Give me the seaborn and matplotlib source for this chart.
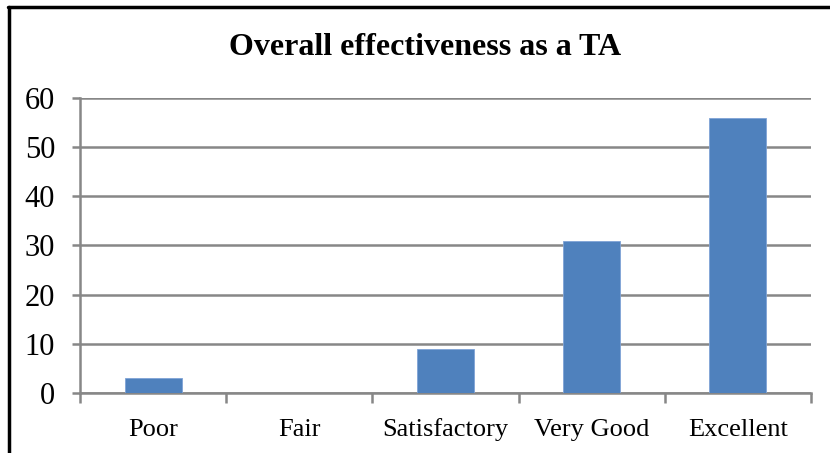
import matplotlib
matplotlib.use("Agg")
import matplotlib.pyplot as plt
import seaborn as sns
import pandas as pd
from matplotlib.lines import Line2D

categories = ["Poor", "Fair", "Satisfactory", "Very Good", "Excellent"]
counts = [3, 0, 9, 31, 56]
y_ticks = [0, 10, 20, 30, 40, 50, 60]

df = pd.DataFrame({"Rating": categories, "Count": counts})

sns.set_style("white")
plt.rcParams["font.family"] = ["Liberation Serif", "DejaVu Serif"]
plt.rcParams["text.color"] = "black"
plt.rcParams["xtick.color"] = "black"
plt.rcParams["ytick.color"] = "black"

fig = plt.figure(figsize=(8.3, 4.53), dpi=100)
ax = fig.add_axes([0.0964, 0.1325, 0.977 - 0.0964, 0.7837 - 0.1325])

sns.barplot(data=df, x="Rating", y="Count", color="#4F81BD", saturation=1, width=0.39,
            edgecolor="#7FA3D6", linewidth=0.6, ax=ax, zorder=3)

grid_c = "#878787"
ax.set_ylim(0, 60)
ax.set_yticks(y_ticks)
ax.set_xlim(-0.5, 4.5)
ax.yaxis.grid(True, color=grid_c, linewidth=1.8, zorder=0)
ax.set_axisbelow(True)
for s in ["top", "right"]:
    ax.spines[s].set_visible(False)
for s in ["left", "bottom"]:
    ax.spines[s].set_color(grid_c)
    ax.spines[s].set_linewidth(1.8)

ax.tick_params(axis="y", direction="out", length=6, width=1.8, color=grid_c,
               labelsize=22, pad=12, left=True)
# x ticks sit between categories
ax.set_xticks([0, 1, 2, 3, 4])
ax.set_xticklabels(categories)
ax.tick_params(axis="x", length=0, labelsize=19, pad=31)
for lbl in ax.get_xticklabels():
    lbl.set_verticalalignment("baseline")
ax.set_xticks([-0.5, 0.5, 1.5, 2.5, 3.5, 4.5], minor=True)
ax.tick_params(axis="x", which="minor", direction="out", length=7, width=1.8, color=grid_c, bottom=True)
ax.set_xlabel("")
ax.set_ylabel("")

fig.text(0.512, 0.895, "Overall effectiveness as a TA", ha="center", va="center",
         fontsize=23, fontweight="bold")

# outer frame (left and top)
fig.add_artist(Line2D([0.0105, 0.0105], [0.0, 0.985], color="black", linewidth=2.5,
                      transform=fig.transFigure))
fig.add_artist(Line2D([0.0095, 1.0], [0.984, 0.984], color="black", linewidth=2.5,
                      transform=fig.transFigure))

fig.savefig("out.png", dpi=100)
